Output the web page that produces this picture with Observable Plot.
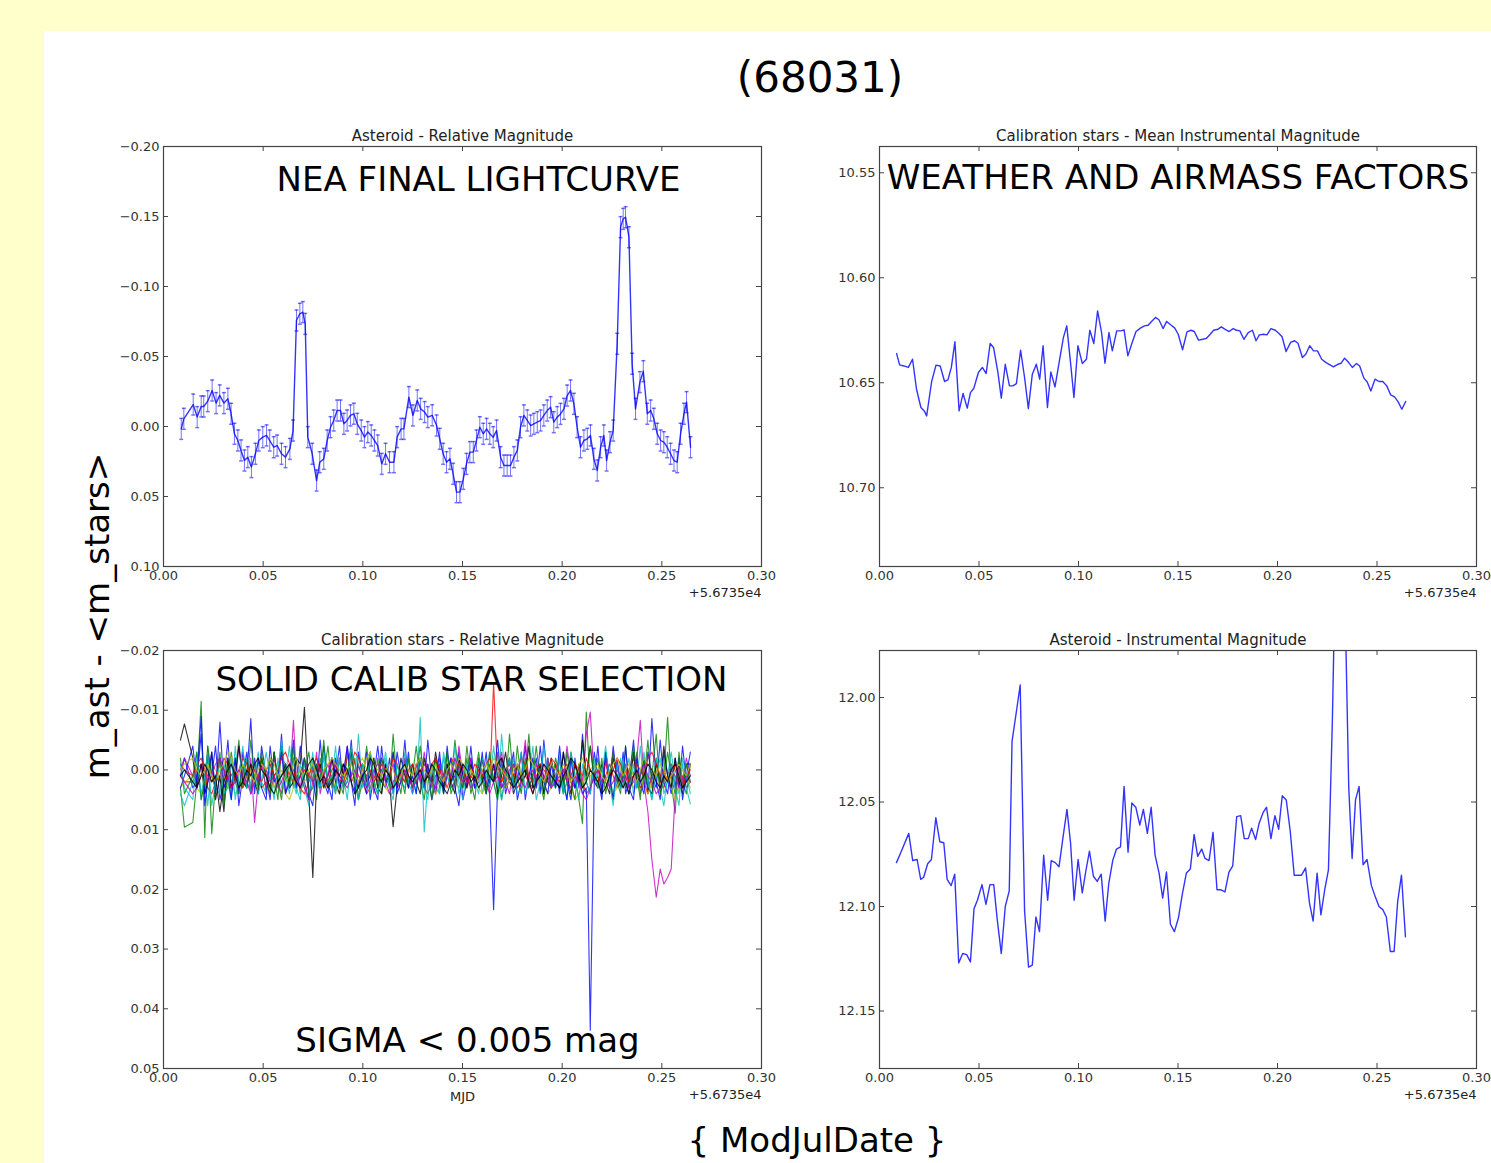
<!DOCTYPE html>
<html><head><meta charset="utf-8">
<script src="https://cdn.jsdelivr.net/npm/d3@7"></script>
<script src="https://cdn.jsdelivr.net/npm/@observablehq/plot@0.6"></script>
<style>
body{margin:0;background:#ffffcc;font-family:"DejaVu Sans",sans-serif;overflow:hidden;}
#page{position:absolute;left:44px;top:31px;width:1447px;height:1132px;background:#fff;}
#root{position:absolute;left:0;top:0;width:1491px;height:1163px;}
.lbl{position:absolute;white-space:nowrap;color:#000;line-height:1;transform:translate(-50%,-50%);font-family:"DejaVu Sans",sans-serif;}
</style></head><body>
<div id="page"></div>
<div id="root"></div>
<script>
// ---------------- DATA ----------------
const xTicks = [0, 0.05, 0.10, 0.15, 0.20, 0.25, 0.30];
const yTicksRel = [-0.20, -0.15, -0.10, -0.05, 0.00, 0.05, 0.10];
const yTicksCal = [10.55, 10.60, 10.65, 10.70];
const yTicksStars = [-0.02, -0.01, 0.00, 0.01, 0.02, 0.03, 0.04, 0.05];
const yTicksAst = [12.00, 12.05, 12.10, 12.15];

// Panel 1: asteroid relative magnitude (with error bars)
const tRel = [0.0089,0.0102,0.0149,0.0169,0.0189,0.0202,0.0222,0.0244,0.0264,0.0282,0.0303,0.0323,0.0339,0.0356,0.0373,0.0389,0.0406,0.0423,0.0441,0.0461,0.0478,0.0498,0.0517,0.0533,0.0553,0.0570,0.0592,0.0612,0.0634,0.0650,0.0667,0.0684,0.0699,0.0711,0.0724,0.0746,0.0768,0.0784,0.0804,0.0821,0.0838,0.0854,0.0871,0.0888,0.0905,0.0921,0.0938,0.0955,0.0972,0.0992,0.1008,0.1025,0.1042,0.1058,0.1075,0.1095,0.1114,0.1134,0.1156,0.1172,0.1192,0.1206,0.1231,0.1251,0.1273,0.1290,0.1310,0.1326,0.1348,0.1370,0.1386,0.1403,0.1420,0.1437,0.1453,0.1470,0.1487,0.1504,0.1520,0.1537,0.1554,0.1570,0.1587,0.1604,0.1621,0.1637,0.1654,0.1671,0.1691,0.1708,0.1724,0.1741,0.1758,0.1775,0.1791,0.1808,0.1825,0.1842,0.1858,0.1875,0.1892,0.1908,0.1925,0.1942,0.1958,0.1975,0.1992,0.2009,0.2025,0.2042,0.2059,0.2075,0.2092,0.2109,0.2126,0.2142,0.2159,0.2176,0.2193,0.2209,0.2223,0.2240,0.2256,0.2276,0.2293,0.2306,0.2318,0.2335,0.2351,0.2368,0.2390,0.2407,0.2427,0.2444,0.2460,0.2477,0.2494,0.2510,0.2527,0.2544,0.2561,0.2577,0.2594,0.2611,0.2624,0.2644];
const relMag = [0.0017,-0.0055,-0.0157,-0.0067,-0.0143,-0.0143,-0.0181,-0.0257,-0.0167,-0.0222,-0.0167,-0.0198,-0.0091,0.0052,0.0100,0.0171,0.0243,0.0219,0.0290,0.0195,0.0100,0.0076,0.0064,0.0100,0.0148,0.0136,0.0195,0.0219,0.0160,0.0029,-0.0757,-0.0805,-0.0817,-0.0733,0.0076,0.0195,0.0386,0.0255,0.0231,0.0100,0.0005,-0.0043,-0.0114,-0.0114,-0.0019,-0.0043,-0.0079,-0.0091,-0.0019,0.0029,0.0076,0.0040,0.0064,0.0100,0.0136,0.0267,0.0195,0.0255,0.0255,0.0076,0.0017,0.0017,-0.0210,-0.0079,-0.0186,-0.0126,-0.0103,-0.0067,-0.0080,-0.0007,0.0088,0.0195,0.0255,0.0231,0.0338,0.0469,0.0469,0.0374,0.0267,0.0183,0.0183,0.0100,0.0005,0.0052,0.0017,0.0052,0.0076,0.0029,0.0219,0.0279,0.0279,0.0279,0.0219,0.0171,0.0005,-0.0079,-0.0043,-0.0007,-0.0019,-0.0031,-0.0043,-0.0079,-0.0114,-0.0138,-0.0031,-0.0067,-0.0090,-0.0126,-0.0221,-0.0257,-0.0162,0.0005,0.0148,0.0100,0.0088,0.0064,0.0231,0.0314,0.0148,0.0064,0.0243,0.0112,0.0029,-0.0591,-0.1424,-0.1483,-0.1495,-0.1352,-0.0448,-0.0126,-0.0317,-0.0395,-0.0091,-0.0114,-0.0055,0.0052,0.0100,0.0112,0.0148,0.0195,0.0243,0.0255,0.0052,-0.0091,-0.0174,0.0148];
const relErr = 0.0075;

// Panel 2: calibration stars, mean instrumental magnitude
const tCal = [0.0086,0.0101,0.0123,0.0145,0.0166,0.0186,0.0208,0.0225,0.0237,0.0262,0.0284,0.0305,0.0327,0.0344,0.0361,0.0379,0.0400,0.0420,0.0441,0.0457,0.0474,0.0497,0.0517,0.0536,0.0556,0.0573,0.0595,0.0612,0.0632,0.0653,0.0670,0.0688,0.0709,0.0729,0.0748,0.0768,0.0788,0.0805,0.0822,0.0844,0.0861,0.0882,0.0904,0.0924,0.0941,0.0960,0.0977,0.0997,0.1019,0.1040,0.1057,0.1077,0.1096,0.1116,0.1133,0.1153,0.1170,0.1192,0.1213,0.1229,0.1248,0.1268,0.1289,0.1311,0.1331,0.1350,0.1367,0.1387,0.1404,0.1425,0.1443,0.1463,0.1484,0.1501,0.1523,0.1545,0.1565,0.1582,0.1603,0.1625,0.1642,0.1662,0.1679,0.1701,0.1718,0.1735,0.1757,0.1777,0.1794,0.1811,0.1831,0.1853,0.1874,0.1892,0.1909,0.1930,0.1947,0.1967,0.1989,0.2006,0.2023,0.2043,0.2066,0.2086,0.2103,0.2125,0.2142,0.2162,0.2181,0.2201,0.2222,0.2244,0.2264,0.2281,0.2303,0.2320,0.2337,0.2358,0.2376,0.2397,0.2413,0.2434,0.2451,0.2469,0.2490,0.2510,0.2529,0.2549,0.2569,0.2588,0.2605,0.2625,0.2644];
const calMag = [10.6361,10.6415,10.6420,10.6427,10.6388,10.6531,10.6618,10.6634,10.6658,10.6494,10.6416,10.6420,10.6494,10.6486,10.6427,10.6304,10.6634,10.6551,10.6621,10.6547,10.6526,10.6451,10.6427,10.6456,10.6313,10.6332,10.6451,10.6573,10.6412,10.6515,10.6515,10.6504,10.6345,10.6475,10.6623,10.6459,10.6412,10.6483,10.6324,10.6618,10.6448,10.6520,10.6396,10.6285,10.6229,10.6404,10.6570,10.6324,10.6408,10.6388,10.6250,10.6313,10.6158,10.6261,10.6407,10.6261,10.6348,10.6253,10.6253,10.6248,10.6372,10.6313,10.6256,10.6240,10.6229,10.6226,10.6208,10.6189,10.6200,10.6242,10.6208,10.6224,10.6240,10.6269,10.6343,10.6258,10.6250,10.6256,10.6297,10.6293,10.6289,10.6269,10.6250,10.6245,10.6234,10.6245,10.6256,10.6242,10.6250,10.6253,10.6293,10.6261,10.6250,10.6300,10.6272,10.6269,10.6272,10.6242,10.6250,10.6264,10.6281,10.6351,10.6308,10.6300,10.6312,10.6380,10.6364,10.6324,10.6348,10.6348,10.6388,10.6404,10.6415,10.6424,10.6412,10.6407,10.6383,10.6404,10.6427,10.6408,10.6420,10.6478,10.6496,10.6539,10.6483,10.6494,10.6494,10.6515,10.6558,10.6567,10.6589,10.6626,10.6589];

// Panel 4 (and 3): asteroid instrumental magnitude, shared epochs
const tObs = [0.0085,0.0105,0.0147,0.0167,0.0189,0.0207,0.0222,0.0242,0.0261,0.0283,0.0303,0.0323,0.0340,0.0360,0.0378,0.0398,0.0418,0.0438,0.0457,0.0475,0.0492,0.0515,0.0535,0.0555,0.0574,0.0592,0.0612,0.0632,0.0652,0.0666,0.0686,0.0707,0.0729,0.0749,0.0768,0.0786,0.0804,0.0825,0.0845,0.0863,0.0883,0.0902,0.0922,0.0942,0.0960,0.0978,0.0998,0.1019,0.1037,0.1055,0.1075,0.1094,0.1114,0.1134,0.1152,0.1172,0.1191,0.1211,0.1229,0.1249,0.1268,0.1288,0.1308,0.1326,0.1346,0.1365,0.1385,0.1405,0.1423,0.1442,0.1462,0.1482,0.1502,0.1522,0.1542,0.1562,0.1581,0.1599,0.1619,0.1636,0.1656,0.1676,0.1696,0.1716,0.1736,0.1756,0.1775,0.1795,0.1815,0.1833,0.1853,0.1870,0.1890,0.1908,0.1928,0.1945,0.1967,0.1987,0.2006,0.2024,0.2044,0.2064,0.2084,0.2102,0.2121,0.2141,0.2161,0.2179,0.2199,0.2218,0.2238,0.2256,0.2276,0.2293,0.2306,0.2318,0.2335,0.2358,0.2375,0.2392,0.2410,0.2430,0.2450,0.2472,0.2492,0.2510,0.2529,0.2547,0.2567,0.2586,0.2604,0.2623,0.2643];
const astMag = [12.079,12.0746,12.065,12.078,12.0775,12.087,12.086,12.0795,12.0775,12.0575,12.069,12.0695,12.087,12.090,12.0845,12.127,12.1225,12.123,12.1265,12.101,12.097,12.0895,12.099,12.0895,12.0895,12.1065,12.1225,12.100,12.0925,12.021,12.008,11.994,12.102,12.129,12.128,12.105,12.112,12.0755,12.097,12.078,12.079,12.081,12.067,12.0535,12.0695,12.097,12.0775,12.0935,12.083,12.0735,12.0855,12.088,12.0845,12.107,12.089,12.078,12.0725,12.0715,12.0425,12.074,12.0505,12.0525,12.061,12.0535,12.065,12.0525,12.0755,12.084,12.096,12.0835,12.1085,12.112,12.1055,12.094,12.084,12.082,12.0655,12.076,12.0725,12.077,12.078,12.0645,12.092,12.092,12.093,12.0835,12.0805,12.057,12.0565,12.0675,12.0675,12.0625,12.068,12.060,12.055,12.0525,12.0675,12.0565,12.063,12.047,12.049,12.064,12.085,12.085,12.085,12.0815,12.0985,12.107,12.084,12.104,12.0915,12.0825,12.010,11.925,11.92,11.918,11.933,12.043,12.077,12.049,12.0425,12.080,12.0775,12.090,12.0955,12.100,12.1015,12.105,12.1215,12.1215,12.0975,12.085,12.1145];

// Panel 3: calibration stars relative magnitudes (one array per star)
const starColors = ["#0000ff","#008000","#ff0000","#00bfbf","#bf00bf","#bfbf00","#000000"];
const star00 = [.001,-.002,.003,.002,-.006,.004,-.003,.001,-.004,.005,.002,-.005,.003,-.002,.006,.001,-.003,.004,-.002,
.003,-.004,.001,.005,-.003,.002,-.006,.004,.001,-.002,.003,-.004,.002,.005,-.001,.003,-.005,.002,.004,
-.002,.001,-.004,.003,.002,-.005,.004,-.001,.002,-.003,.005,.001,-.004,.002,.003,-.002,.004,-.003,.001,
.002,-.003,.004,.001,-.002,.003,-.005,.002,.004,-.001,.003,-.004,.002,.001,-.003,.005,.002,-.002,.003,
-.001,.002,-.003,.004,.0234,.003,-.002,.004,.001,-.003,.005,.002,-.004,.003,.001,-.002,.004,-.005,.002,
.003,-.001,.004,-.003,.002,.005,-.002,.003,-.006,.002,.004,-.003,.001,.005,-.002,.003,-.004,.002,.001,
-.003,.004,.002,-.005,.003,.001,-.002,.004,-.0086,.002,.005,-.003,.001,.004,-.002,.003,-.004,.002,-.001];
const star01 = [.003,.0096,.0088,.002,-.0115,.0113,-.004,.0107,.002,-.003,.005,-.002,.004,.001,-.005,.003,-.002,.004,-.001,
.002,-.003,.004,-.002,.001,.005,-.004,.002,-.001,.003,-.002,.004,.001,-.003,.002,.005,-.002,.001,-.004,
.003,-.001,.002,.004,-.003,.001,-.002,.005,.002,-.004,.001,.003,-.002,.004,-.001,.002,-.003,.001,.004,
-.002,.003,.001,-.004,.002,.005,-.001,.003,-.002,.001,.004,-.003,.002,-.005,.001,.003,-.002,.004,.001,
-.003,.002,.004,-.001,.002,-.003,.005,.001,-.002,.003,-.004,.002,.001,-.006,.003,.002,-.001,.004,-.002,
.001,.003,-.002,.004,.002,-.003,.001,.005,.009,-.0097,.003,.001,-.002,.004,-.003,.002,.005,-.001,.002,
.003,-.004,.002,.001,-.003,.004,.002,-.005,.003,-.002,.004,.001,-.0088,.002,.0073,-.003,.002,.004,-.001];
const star02 = [.001,.002,.002,.000,-.001,.001,.003,.004,.002,.001,-.002,-.001,.001,.000,.002,.003,.001,-.001,.000,
.002,.003,.002,.004,.001,.000,-.002,-.001,.001,.002,.001,.003,.004,.002,.000,.001,-.001,.002,.003,
.001,.000,.002,.001,-.002,-.003,-.001,.001,.002,.004,.003,.001,.002,.000,-.001,.001,.003,.002,.001,
.000,.002,.001,-.001,.001,.003,.004,.002,.001,.000,.002,.001,-.002,-.001,.001,.002,.003,.001,.002,
.000,.001,.002,.003,-.0145,.001,.002,.000,-.001,.001,.003,.002,.001,.002,.004,.001,.000,.001,.002,
.003,.001,.002,.000,-.001,.002,.003,.001,.002,.004,.003,.001,.000,.002,.001,-.001,.001,.003,.002,
.001,.002,.000,-.002,.001,.003,.002,.004,.001,.000,.002,.003,.001,-.001,.000,.002,.001,.003,.002];
const star03 = [.004,.006,.002,-.003,.005,.001,.006,-.002,.003,.004,-.001,.002,.005,-.004,.003,.001,-.002,.004,.002,
-.003,.002,.004,-.001,.003,.002,-.005,.001,.004,-.002,.003,.005,-.001,.002,-.003,.004,.001,-.002,.003,
.002,-.004,.003,.001,.005,-.002,.002,-.006,.003,.001,.004,-.002,.003,.001,-.003,.002,.004,-.001,.002,
.003,-.002,.001,.004,-.0088,.0104,.002,-.001,.003,.004,-.002,.001,.003,-.004,.002,.005,-.001,.002,.003,
-.002,.004,.001,-.003,.002,.005,-.006,.002,.001,-.002,.004,.003,-.001,.002,-.004,.003,.001,.004,-.002,
.002,.003,-.003,.001,.005,-.002,.003,.001,-.004,.002,.004,-.001,.003,.002,-.003,.001,.004,.002,-.002,
.003,.001,-.002,.004,.002,-.004,.003,.001,.005,-.002,.003,.006,.001,-.003,.002,.004,-.001,.003,.0057];
const star04 = [.000,-.002,.001,.003,-.001,.002,-.003,.001,.002,-.002,.003,.001,-.001,.002,-.004,.001,.003,-.002,.0088,
.002,-.001,.003,.001,-.002,.002,.004,-.001,.002,-.0083,.001,.003,-.002,.001,.002,-.003,.004,.001,-.001,
.002,.003,-.002,.001,-.004,.002,.001,.003,-.001,.002,-.003,.004,.001,-.002,.002,.001,-.001,.003,.002,
-.002,.001,.003,-.001,.002,-.003,.001,.002,.004,-.002,.001,-.001,.003,.002,-.004,.001,.002,-.002,.003,
.001,-.002,.002,.003,-.001,.001,-.003,.002,.004,-.001,.002,.001,-.005,.002,.003,-.001,.001,.002,-.002,
.003,.001,-.002,.002,-.004,.001,.003,-.001,.002,-.006,-.0097,.002,.001,.003,-.002,.001,-.003,.002,.001,
.002,-.001,.003,.001,-.002,-.0083,.002,.007,.015,.0213,.0166,.0191,.018,.0166,.004,-.001,.002,-.002,.001];
const star05 = [.003,.002,.001,.003,.004,.002,.000,-.001,.000,.002,.001,.003,.002,.004,.003,.001,.002,.000,.001,
-.001,-.002,.000,.002,.003,.001,.002,.004,.005,.003,.001,.000,.002,.001,-.001,.000,.002,.003,.002,
.001,.003,.004,.002,.000,.001,.002,-.001,-.002,.000,.001,.003,.002,.001,.003,.004,.002,.001,.000,
.002,.001,.003,.002,.000,-.001,.001,.002,.004,.003,.002,.001,.000,.002,.003,.001,-.001,.000,.002,
.003,.004,.002,.001,.002,.000,.001,.003,.002,.004,.002,.001,-.001,.001,.002,.003,.001,.002,.004,
.003,.001,.000,.002,.001,.003,.005,.004,.002,.001,.000,-.001,.001,.002,.003,.002,.004,.003,.001,
.002,.000,.001,.003,.002,.001,.003,.004,.002,.000,.001,.002,.001,.003,.005,.003,.002,.001,.003];
const star06 = [-.005,-.0077,-.002,.003,-.001,.004,.002,-.003,.005,.001,.007,-.002,.003,.001,-.004,.002,.003,-.001,.002,
.004,-.002,.001,.003,-.003,.002,.001,-.001,.003,.002,-.002,-.001,-.0105,.004,.018,.002,-.001,.003,.001,
-.002,.002,.004,-.001,.001,-.003,.002,.003,-.001,.002,.001,-.002,.003,.004,-.001,.002,.0095,.003,-.002,
.001,.003,-.001,.002,.004,-.002,.001,.002,-.003,.001,.003,-.001,.002,.004,-.002,.001,.003,-.001,.002,
.001,-.002,.003,.002,-.001,.004,.001,-.003,.002,.003,-.001,.002,.001,-.004,.003,.002,-.001,.004,.001,
-.002,.002,.003,-.003,.001,.004,-.001,.002,-.005,.001,-.004,.002,.003,-.001,.002,.004,-.002,.001,.003,
-.001,.002,.004,-.003,.002,.001,-.002,.003,.004,-.001,.002,-.004,.001,.003,-.002,.002,.004,-.001,-.001];
const star07 = [.003,.001,-.004,.002,-.009,.006,.002,-.003,.004,-.008,.003,.001,.005,-.002,.004,-.003,.001,-.0086,.004,
-.002,.003,.005,-.004,.002,.001,-.003,.004,.002,-.005,.003,.001,-.002,.004,.006,-.001,.003,-.004,.002,
.005,-.002,.003,.001,-.004,.002,.006,-.003,.001,.004,-.002,.003,.005,-.004,.002,.001,-.003,.004,.002,
-.005,.003,.001,.004,-.002,.003,-.001,.005,.002,-.003,.004,.001,-.002,.003,.006,-.001,.002,-.004,.003,
.002,-.003,.004,.001,.002,-.005,.003,.001,-.002,.004,.002,-.003,.005,.001,-.002,.003,-.004,.002,.004,
-.001,.003,-.004,.002,.005,-.002,.003,.001,.004,.003,.0436,.002,-.004,.004,-.003,.001,.005,-.002,.003,
.001,-.004,.003,.005,-.002,.002,.004,-.003,.001,.003,-.005,.002,.004,-.001,.003,-.002,.005,.001,-.003];
const star08 = [-.002,.004,.001,-.003,.005,.002,-.004,.001,.003,-.002,.006,.001,-.003,.002,.004,-.001,.003,-.005,.002,
.003,-.002,.001,.004,-.003,.002,.005,-.001,.003,-.004,.002,.001,-.002,.004,.003,-.001,.002,-.005,.003,
.001,.004,-.002,.003,.001,-.004,.002,.005,-.001,.003,-.003,.002,.004,-.002,.001,.003,-.006,.002,.001,
.004,-.002,.003,.001,-.004,.002,.001,.005,-.002,.003,.001,-.003,.004,.002,-.001,.003,-.004,.002,.005,
-.002,.001,.004,-.003,.002,.005,-.001,.003,-.006,.002,.001,.004,-.002,.003,.001,-.004,.002,.005,-.001,
.003,-.002,.001,.004,-.003,.002,.005,-.001,.003,.002,-.004,.001,.003,-.002,.004,.001,-.003,.002,.004,
-.001,.003,.002,-.004,.001,.005,-.002,.003,.001,-.006,.004,.002,-.003,.001,.004,-.002,.003,-.001,.002];
const star09 = [-.001,.000,.001,-.001,-.002,.000,.001,.002,.001,-.001,.000,.002,.003,.001,.000,-.002,-.001,.001,.000,
.001,.002,.000,-.001,.001,.000,-.002,-.003,-.001,.000,.002,.001,.000,.001,-.001,-.002,.000,.001,.002,
.000,-.001,.001,.002,.000,-.001,-.003,-.002,.000,.001,.000,.002,.001,-.001,.000,.001,-.002,-.001,.001,
.002,.000,-.001,.001,.000,.002,.001,-.001,-.002,.000,.001,.003,.001,.000,-.001,.000,.002,.001,-.001,
.000,.001,-.001,-.002,.000,.001,.002,.000,-.001,.001,.000,-.002,-.001,.001,.002,.000,-.001,.000,.001,
-.002,-.001,.001,.000,.002,.001,-.001,.000,.001,-.002,.000,.001,.002,.000,-.001,.001,.000,-.002,-.001,
.001,.000,.002,.001,-.001,.000,.001,-.002,-.003,-.001,.001,.000,.002,.001,-.001,.000,.003,.001,.000];
const star10 = [-.001,.003,.005,-.002,.004,.001,-.003,.006,.002,-.001,.004,.003,-.002,.005,.001,-.004,.003,.002,-.001,
.004,.002,-.003,.001,.005,-.002,.003,.001,-.004,.002,.004,-.001,.003,.006,-.002,.001,.003,-.003,.002,
.001,.004,-.002,.003,.002,-.004,.001,.005,-.001,.003,-.003,.002,.004,.001,-.002,.003,.005,-.001,.002,
-.003,.002,.004,.001,-.002,.003,.005,-.001,.002,.004,-.003,.001,.003,-.002,.004,.001,-.001,.003,.002,
.004,-.002,.001,.003,-.004,.002,.005,.001,-.002,.003,.001,-.003,.004,.002,-.001,.005,.002,-.004,.001,
.003,.001,-.002,.004,.002,-.003,.001,.005,-.001,.002,.004,-.002,.003,.001,-.004,.002,.006,-.001,.003,
-.002,.002,.004,-.001,.003,.001,-.003,.002,.005,.001,-.002,.004,.002,-.001,.003,.006,-.002,.001,.004];
const star11 = [.001,.002,.004,.003,.001,.000,.002,.001,-.001,-.002,.000,.001,.003,.002,.000,.001,.002,.004,.002,
.001,-.001,.000,.002,.001,.003,.002,.000,-.001,.001,.002,.001,.003,.005,.002,.001,.000,.002,.001,
-.002,-.001,.001,.002,.003,.001,.000,.002,.001,.003,.002,.000,-.001,.000,.002,.004,.002,.001,.002,
.000,.001,.003,.002,.001,-.001,.000,.002,.003,.001,.002,.000,.001,-.002,.000,.002,.001,.003,.002,
.001,.000,.002,.004,.002,.001,.003,.002,.000,-.001,.001,.002,.003,.001,.000,.002,.001,-.001,.001,
.003,.002,.001,.000,.002,.003,.001,.002,.004,.005,.003,.001,.000,.002,.001,.003,.002,.000,.001,
.002,.001,.003,.002,.000,.001,-.001,.001,.002,.004,.003,.001,.002,.000,.001,.003,.002,.001,.002];
const star12 = [.000,-.001,-.002,.000,.001,.000,-.001,.001,.002,.000,-.001,-.003,-.002,.000,.001,-.001,.000,.001,.002,
.000,-.001,.000,-.002,-.001,.001,.000,.002,.001,-.001,-.002,.000,.001,.000,-.001,.001,.002,.000,-.001,
-.002,-.001,.000,.001,.000,-.001,.001,.002,.000,-.002,-.003,-.001,.000,.001,.000,-.001,.000,.002,.001,
-.001,.000,.001,-.001,-.002,.000,.001,.000,-.001,.001,.002,.000,-.001,.000,-.002,-.001,.001,.000,.001,
.002,.000,-.001,.000,-.002,-.001,.000,.001,.002,.000,-.001,.001,.000,-.002,-.001,.000,.001,.002,.000,
-.001,.000,.001,-.001,.000,.002,.001,-.001,-.002,.000,.001,.000,-.001,.001,.002,.000,-.001,-.002,.000,
.001,.000,-.001,.001,.002,.000,-.002,-.001,.000,.001,-.001,.000,.002,.001,.000,-.001,.000,.001,-.001];
const star13 = [.001,.000,.002,.003,.001,-.001,.000,.002,.001,.007,.002,.000,-.001,.001,.003,.002,.000,.001,-.001,
-.002,.000,.001,.003,.004,.002,.001,.000,-.001,.001,.002,.003,.001,-.001,-.002,.000,.002,.001,.003,
.002,.000,.001,-.001,.000,.002,.004,.003,.001,.000,-.002,-.001,.001,.002,.000,.001,.003,.002,.000,
-.001,.001,.002,.001,.000,.002,.001,-.001,.000,.002,.003,.004,.002,.000,.001,-.001,.000,.002,.001,
.003,.002,.000,.001,.002,-.001,-.002,.000,.001,.003,.002,.001,.000,.002,.004,.002,.001,-.001,.000,
.001,.002,.003,.001,.000,-.002,-.001,.001,.003,.002,.000,.001,.002,.004,.003,.001,.000,.001,.002,
.003,.002,.004,.001,.000,.002,.001,-.001,.000,.002,.003,.001,.002,.000,-.001,.001,.003,.002,.001];
const stars = [star00,star01,star02,star03,star04,star05,star06,star07,star08,star09,star10,star11,star12,star13];

// ---------------- DRAWING ----------------
const root = document.getElementById("root");
const FONT = "DejaVu Sans";
const fmt2 = d3.format(".2f");
const capSymbol = {draw(ctx, size) { const w = Math.sqrt(size) / 1.8; ctx.moveTo(-w, 0); ctx.lineTo(w, 0); }};

function zip(ts, vs) {
  const n = Math.min(ts.length, vs.length);
  const out = [];
  for (let i = 0; i < n; i++) out.push({t: ts[i], v: vs[i]});
  return out;
}

function panel({left, top, frameW, frameH, yDomain, yTicks, title, marks, overlays}) {
  const ml = 70, mr = 30, mt = 30, mb = 45;
  const axisColor = "#444";
  const chart = Plot.plot({
    width: frameW + ml + mr, height: frameH + mt + mb,
    marginLeft: ml, marginRight: mr, marginTop: mt, marginBottom: mb,
    style: {fontFamily: FONT, background: "transparent", overflow: "visible"},
    x: {domain: [0, 0.30]},
    y: {domain: yDomain, reverse: true},
    marks: [
      ...marks,
      Plot.frame({stroke: axisColor, strokeWidth: 1.2}),
      Plot.gridX(xTicks, {stroke: axisColor, strokeOpacity: 1, insetTop: frameH - 5}),
      Plot.gridX(xTicks, {stroke: axisColor, strokeOpacity: 1, insetBottom: frameH - 5}),
      Plot.gridY(yTicks, {stroke: axisColor, strokeOpacity: 1, insetRight: frameW - 5}),
      Plot.gridY(yTicks, {stroke: axisColor, strokeOpacity: 1, insetLeft: frameW - 5}),
      Plot.axisX(xTicks, {anchor: "bottom", tickSize: 0, tickPadding: 4, tickFormat: fmt2, fontSize: 13, color: "#333", label: null}),
      Plot.axisY(yTicks, {anchor: "left", tickSize: 0, tickPadding: 4, tickFormat: fmt2, fontSize: 13, color: "#333", label: null}),
      Plot.text([title], {frameAnchor: "top", dy: -16, fontSize: 15, fill: "#222"}),
      Plot.text(["+5.6735e4"], {frameAnchor: "bottom-right", textAnchor: "end", dy: 30, fontSize: 13, fill: "#222"}),
      ...overlays
    ]
  });
  chart.style.position = "absolute";
  chart.style.left = (left - ml) + "px";
  chart.style.top = (top - mt) + "px";
  root.appendChild(chart);
}

const BLUE = "#0000ff";
const big = 34;

// Panel 1
const relRows = zip(tRel, relMag);
panel({
  left: 163, top: 146, frameW: 598, frameH: 420,
  yDomain: [-0.20, 0.10], yTicks: yTicksRel,
  title: "Asteroid - Relative Magnitude",
  marks: [
    Plot.ruleX(relRows, {x: "t", y1: d => d.v - relErr, y2: d => d.v + relErr, stroke: BLUE, strokeOpacity: 0.55}),
    Plot.dot(relRows, {x: "t", y: d => d.v - relErr, symbol: capSymbol, r: 2, stroke: BLUE, fill: "none", strokeOpacity: 0.55}),
    Plot.dot(relRows, {x: "t", y: d => d.v + relErr, symbol: capSymbol, r: 2, stroke: BLUE, fill: "none", strokeOpacity: 0.55}),
    Plot.line(relRows, {x: "t", y: "v", stroke: BLUE, strokeWidth: 1.4, strokeOpacity: 0.8})
  ],
  overlays: [Plot.text(["NEA FINAL LIGHTCURVE"], {frameAnchor: "top", dx: 16, dy: 20, fontSize: big, fill: "#000"})]
});

// Panel 2
panel({
  left: 879, top: 146, frameW: 597, frameH: 420,
  yDomain: [10.5375, 10.7375], yTicks: yTicksCal,
  title: "Calibration stars - Mean Instrumental Magnitude",
  marks: [Plot.line(zip(tCal, calMag), {x: "t", y: "v", stroke: BLUE, strokeWidth: 1.4, strokeOpacity: 0.8})],
  overlays: [Plot.text(["WEATHER AND AIRMASS FACTORS"], {frameAnchor: "top", dx: 0, dy: 18, fontSize: big, fill: "#000"})]
});

// Panel 3
panel({
  left: 163, top: 650, frameW: 598, frameH: 418,
  yDomain: [-0.02, 0.05], yTicks: yTicksStars,
  title: "Calibration stars - Relative Magnitude",
  marks: stars.map((s, k) => Plot.line(zip(tObs, s), {x: "t", y: "v", stroke: starColors[k % 7], strokeWidth: 1.1, strokeOpacity: 0.8, clip: true})),
  overlays: [
    Plot.text(["SOLID CALIB STAR SELECTION"], {frameAnchor: "top", dx: 9, dy: 16, fontSize: big, fill: "#000"}),
    Plot.text(["SIGMA < 0.005 mag"], {frameAnchor: "bottom", dx: 5, dy: -17, fontSize: big, fill: "#000"}),
    Plot.text(["MJD"], {frameAnchor: "bottom", dy: 32, fontSize: 13, fill: "#222"})
  ]
});

// Panel 4
panel({
  left: 879, top: 650, frameW: 597, frameH: 418,
  yDomain: [11.9775, 12.1775], yTicks: yTicksAst,
  title: "Asteroid - Instrumental Magnitude",
  marks: [Plot.line(zip(tObs, astMag), {x: "t", y: "v", stroke: BLUE, strokeWidth: 1.4, strokeOpacity: 0.8, clip: true})],
  overlays: []
});

// Figure-level texts
function label(text, x, y, size, rotate) {
  const d = document.createElement("div");
  d.className = "lbl";
  d.textContent = text;
  d.style.left = x + "px"; d.style.top = y + "px"; d.style.fontSize = size + "px";
  if (rotate) d.style.transform = "translate(-50%,-50%) rotate(-90deg)";
  root.appendChild(d);
}
label("(68031)", 820, 78, 42);
label("{ ModJulDate }", 817, 1140, 34);
label("m_ast - <m_stars>", 97, 616, 34, true);
</script>
</body></html>
